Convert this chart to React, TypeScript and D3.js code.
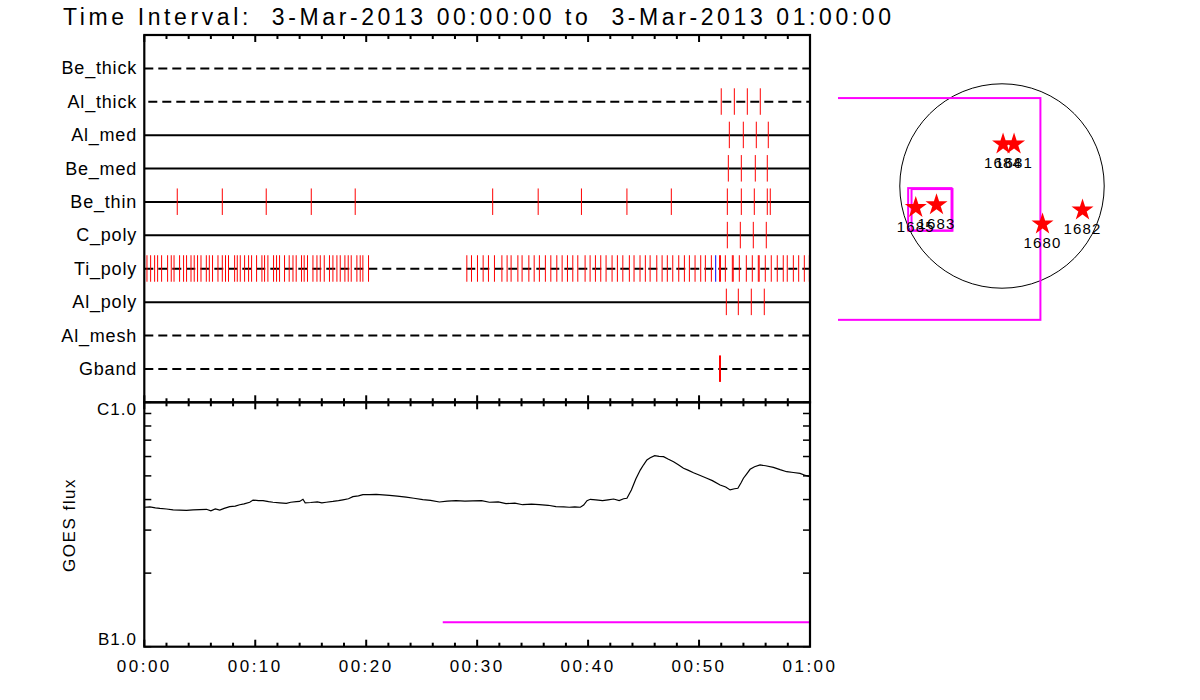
import React, { useEffect, useRef } from "react";
import * as d3 from "d3";

// detector rows, top to bottom
const rowNames = ["Be_thick", "Al_thick", "Al_med", "Be_med", "Be_thin", "C_poly", "Ti_poly", "Al_poly", "Al_mesh", "Gband"];
const rowDashed = [true, true, false, false, false, false, true, false, true, true];

// image times (minutes after 00:00) per row
const beThickTimes: number[] = [];
const alThickTimes = [52.0, 53.18, 54.35, 55.52];
const alMedTimes = [52.73, 53.99, 55.16, 56.24];
const beMedTimes = [52.64, 53.81, 55.07, 56.15];
const beThinTimes = [2.97, 7.03, 10.99, 15.05, 19.01, 31.4, 35.5, 39.4, 43.5, 47.5, 52.55, 53.81, 54.98, 56.15, 56.42];
const cPolyTimes = [52.55, 53.72, 54.89, 56.06];
const tiPolyTimes = [
  0.24, 0.57, 0.93, 1.2, 1.56, 2.1, 2.43, 2.68, 3.18, 3.54, 3.81, 4.21, 4.5, 4.8, 5.11, 5.59, 5.86, 6.15, 6.64,
  7.03, 7.32, 7.59, 8.14, 8.38, 8.65, 9.04, 9.4, 9.67, 10.12, 10.6, 10.84, 11.14, 11.65, 11.92, 12.19, 12.64,
  13.06, 13.4, 13.69, 14.17, 14.41, 14.71, 15.2, 15.56, 15.86, 16.22, 16.69, 17.0, 17.36, 17.66, 18.08, 18.38,
  18.65, 19.16, 19.46, 19.7, 20.21,
  29.07, 29.49, 30.03, 30.54, 31.02, 31.56, 32.23, 32.7, 33.06, 33.67, 34.05, 34.66, 35.14, 35.61, 36.15,
  36.64, 37.18, 37.66, 38.14, 38.62, 39.07, 39.73, 40.18, 40.66, 41.14, 41.62, 42.16, 42.64, 43.13, 43.72,
  44.14, 44.68, 45.16, 45.59, 46.19, 46.67, 47.14, 47.63, 48.17, 48.68, 49.13, 49.64, 50.15, 50.57, 51.11,
  51.85, 51.93, 52.37, 53.0, 53.08, 53.63, 54.26, 54.8, 55.34, 55.42, 55.97, 56.51, 57.05, 57.59, 57.95,
  58.5, 58.98, 59.49, 59.94,
];
const tiPolyBlue = [51.5];
const alPolyTimes = [52.46, 53.54, 54.71, 55.88];
const alMeshTimes: number[] = [];
const gbandTimes = [51.89];
const rowTimes = [beThickTimes, alThickTimes, alMedTimes, beMedTimes, beThinTimes, cPolyTimes, tiPolyTimes, alPolyTimes, alMeshTimes, gbandTimes];

// GOES flux (minutes, flux in units of 1e-7 W/m^2)
const goesMinutes = [
  0, 0.5, 1.0, 1.4, 2.0, 2.6, 3.2, 3.8, 4.4, 5.0, 5.6, 6.0, 6.4, 6.8, 7.2, 7.7, 8.2, 8.6, 9.0, 9.5, 9.8, 10.3,
  10.7, 11.2, 11.6, 12.2, 12.8, 13.2, 13.7, 14.0, 14.3, 14.5, 15.0, 15.6, 16.0, 16.4, 17.0, 17.5, 17.9, 18.4,
  18.8, 19.3, 19.7, 20.3, 20.9, 21.5, 22.1, 22.8, 23.6, 24.3, 25.1, 25.8, 26.6, 27.3, 28.1, 28.9, 29.6, 30.4,
  31.1, 31.9, 32.6, 33.4, 34.1, 34.9, 35.6, 36.4, 37.1, 37.8, 38.3, 38.8, 39.3, 39.6, 39.9, 40.2, 40.7, 41.3,
  41.8, 42.3, 42.8, 43.2, 43.5, 43.9, 44.3, 44.7, 45.0, 45.3, 45.6, 46.0, 46.4, 46.8, 47.2, 47.7, 48.1, 48.6,
  49.0, 49.5, 50.0, 50.7, 51.2, 51.9, 52.4, 52.8, 53.2, 53.5, 53.8, 54.0, 54.3, 54.6, 55.0, 55.5, 56.0, 56.7,
  57.3, 57.9, 58.5, 59.1, 59.6, 60.0,
];
const goesFlux = [
  3.72, 3.73, 3.7, 3.68, 3.66, 3.63, 3.62, 3.61, 3.63, 3.64, 3.65, 3.6, 3.66, 3.62, 3.68, 3.74, 3.76, 3.81, 3.84,
  3.9, 3.98, 3.96, 3.96, 3.92, 3.9, 3.88, 3.86, 3.9, 3.92, 3.93, 4.01, 3.88, 3.89, 3.91, 3.88, 3.9, 3.93, 3.96,
  3.99, 4.03, 4.11, 4.14, 4.19, 4.19, 4.2, 4.18, 4.16, 4.13, 4.09, 4.05, 4.0, 3.97, 3.91, 3.94, 3.96, 3.94, 3.95,
  3.96, 3.9, 3.91, 3.85, 3.87, 3.81, 3.83, 3.81, 3.79, 3.74, 3.73, 3.72, 3.73, 3.72, 3.8, 3.96, 4.01, 3.99, 3.96,
  3.99, 4.02, 3.96, 4.03, 4.05, 4.38, 4.85, 5.28, 5.55, 5.81, 5.93, 6.05, 6.01, 5.99, 5.86, 5.71, 5.56, 5.37,
  5.28, 5.15, 5.04, 4.89, 4.78, 4.59, 4.5, 4.38, 4.43, 4.45, 4.7, 4.89, 5.1, 5.32, 5.45, 5.54, 5.5, 5.42, 5.3,
  5.2, 5.16, 5.12, 5.02, 4.96,
];
// attenuator/state bar in the GOES panel
const magentaStart = 26.9;
const magentaEnd = 60;
const magentaLevel = 1.26;

const timeLabels = ["00:00", "00:10", "00:20", "00:30", "00:40", "00:50", "01:00"];

// solar map (arcsec)
const limbRadius = 966;
const flareIds = ["1684", "1681", "1685", "1683", "1680", "1682"];
const flareX = [10, 114, -815, -619, 383, 761];
const flareY = [405, 405, -194, -168, -351, -218];
const fovBoxes = [
  [-1737, 363, -1265, 831],
  [-887, -477, -421, -20],
  [-855, -468, -423, -29],
];

const FONT = "'Liberation Sans', Arial, sans-serif";

const App = () => {
  const svgRef = useRef<SVGSVGElement | null>(null);
  const w = 1200;
  const h = 700;
  const m = { left: 144.3, right: 810, top: 35, mid: 402.3, bottom: 646.7 };

  useEffect(() => {
    const svg = d3.select(svgRef.current);
    svg.selectAll("*").remove();

    const xScale = d3.scaleLinear().domain([0, 60]).range([m.left, m.right]);
    const rowScale = d3.scaleLinear().domain([0, 11]).range([m.top, m.mid]);
    const yFlux = d3.scaleLog().domain([1e-7, 1e-6]).range([m.bottom, m.mid]);

    // title
    svg
      .append("text")
      .attr("x", 63)
      .attr("y", 25)
      .attr("textLength", 828)
      .attr("lengthAdjust", "spacing")
      .style("font-family", FONT)
      .style("font-size", "23px")
      .style("white-space", "pre")
      .text("Time Interval:  3-Mar-2013 00:00:00 to  3-Mar-2013 01:00:00");

    // detector rows
    const rows = svg.append("g");
    rowNames.forEach((name, i) => {
      const y = rowScale(i + 1);
      rows
        .append("line")
        .attr("x1", m.left)
        .attr("x2", m.right)
        .attr("y1", y)
        .attr("y2", y)
        .attr("stroke", "#000")
        .attr("stroke-width", 2)
        .attr("stroke-dasharray", rowDashed[i] ? "9,5" : null)
        .attr("stroke-dashoffset", i === 1 ? -4 : 0);
      rows
        .append("text")
        .attr("x", 137)
        .attr("y", y)
        .attr("text-anchor", "end")
        .attr("dominant-baseline", "central")
        .style("font-family", FONT)
        .style("font-size", "18px")
        .style("letter-spacing", "0.8px")
        .text(name);
      rows
        .selectAll(null)
        .data(rowTimes[i])
        .enter()
        .append("line")
        .attr("x1", (d) => xScale(d))
        .attr("x2", (d) => xScale(d))
        .attr("y1", y - 13.5)
        .attr("y2", y + 13)
        .attr("stroke", "#ff0000")
        .attr("stroke-width", name === "Gband" ? 2 : 1);
      if (name === "Ti_poly") {
        rows
          .selectAll(null)
          .data(tiPolyBlue)
          .enter()
          .append("line")
          .attr("x1", (d) => xScale(d))
          .attr("x2", (d) => xScale(d))
          .attr("y1", y - 13.5)
          .attr("y2", y + 13)
          .attr("stroke", "#0000ff")
          .attr("stroke-width", 1);
      }
    });

    // GOES curve
    const line = d3
      .line<number>()
      .x((_, i) => xScale(goesMinutes[i]))
      .y((d) => yFlux(d * 1e-7));
    svg
      .append("path")
      .datum(goesFlux)
      .attr("d", line)
      .attr("fill", "none")
      .attr("stroke", "#000")
      .attr("stroke-width", 1.2);

    svg
      .append("line")
      .attr("x1", xScale(magentaStart))
      .attr("x2", xScale(magentaEnd))
      .attr("y1", yFlux(magentaLevel * 1e-7))
      .attr("y2", yFlux(magentaLevel * 1e-7))
      .attr("stroke", "#ff00ff")
      .attr("stroke-width", 2);

    // time ticks on the horizontal axes
    const timeTicks = xScale.ticks(30);
    const hAxes = [
      { y: m.top, dir: 1 },
      { y: m.mid, dir: -1 },
      { y: m.mid, dir: 1 },
      { y: m.bottom, dir: -1 },
    ];
    hAxes.forEach((a) => {
      svg
        .append("g")
        .selectAll("line")
        .data(timeTicks)
        .enter()
        .append("line")
        .attr("x1", (d) => xScale(d))
        .attr("x2", (d) => xScale(d))
        .attr("y1", a.y)
        .attr("y2", (d) => a.y + a.dir * (d % 10 === 0 ? 7 : 4))
        .attr("stroke", "#000")
        .attr("stroke-width", 2);
    });

    // log ticks on GOES panel
    const fluxTicks = yFlux.ticks();
    [
      { x: m.left, dir: 1 },
      { x: m.right, dir: -1 },
    ].forEach((a) => {
      svg
        .append("g")
        .selectAll("line")
        .data(fluxTicks)
        .enter()
        .append("line")
        .attr("x1", a.x)
        .attr("x2", a.x + a.dir * 7)
        .attr("y1", (d) => yFlux(d))
        .attr("y2", (d) => yFlux(d))
        .attr("stroke", "#000")
        .attr("stroke-width", 1.5);
    });

    // frames
    [
      [m.top, m.mid],
      [m.mid, m.bottom],
    ].forEach(([y0, y1]) => {
      svg
        .append("rect")
        .attr("x", m.left)
        .attr("y", y0)
        .attr("width", m.right - m.left)
        .attr("height", y1 - y0)
        .attr("fill", "none")
        .attr("stroke", "#000")
        .attr("stroke-width", 2.2);
    });

    svg
      .append("text")
      .attr("x", 137)
      .attr("y", yFlux(1e-6) + 7)
      .attr("text-anchor", "end")
      .attr("dominant-baseline", "central")
      .style("font-family", FONT)
      .style("font-size", "17px")
      .style("letter-spacing", "1px")
      .text("C1.0");
    svg
      .append("text")
      .attr("x", 137)
      .attr("y", yFlux(1e-7) - 7)
      .attr("text-anchor", "end")
      .attr("dominant-baseline", "central")
      .style("font-family", FONT)
      .style("font-size", "17px")
      .style("letter-spacing", "1px")
      .text("B1.0");
    svg
      .append("text")
      .attr("transform", `translate(75, 525) rotate(-90)`)
      .attr("text-anchor", "middle")
      .style("font-family", FONT)
      .style("font-size", "17px")
      .style("letter-spacing", "1.5px")
      .text("GOES flux");

    svg
      .append("g")
      .selectAll("text")
      .data(timeLabels)
      .enter()
      .append("text")
      .attr("x", (_, i) => xScale(i * 10))
      .attr("y", 672)
      .attr("text-anchor", "middle")
      .style("font-family", FONT)
      .style("font-size", "17px")
      .style("letter-spacing", "2.5px")
      .text((d) => d);

    // solar map
    const sunX = d3.scaleLinear().domain([-1550, 1550]).range([838, 1166]);
    const sunY = d3.scaleLinear().domain([-1550, 1550]).range([350, 22]);
    svg
      .append("clipPath")
      .attr("id", "mapclip")
      .append("rect")
      .attr("x", 838)
      .attr("y", 22)
      .attr("width", 328)
      .attr("height", 328);
    const map = svg.append("g").attr("clip-path", "url(#mapclip)");
    map
      .append("circle")
      .attr("cx", sunX(0))
      .attr("cy", sunY(0))
      .attr("r", sunX(limbRadius) - sunX(0))
      .attr("fill", "none")
      .attr("stroke", "#000")
      .attr("stroke-width", 1);
    map
      .selectAll("rect.fov")
      .data(fovBoxes)
      .enter()
      .append("rect")
      .attr("class", "fov")
      .attr("x", (d) => sunX(d[0]))
      .attr("y", (d) => sunY(d[3]))
      .attr("width", (d) => sunX(d[1]) - sunX(d[0]))
      .attr("height", (d) => sunY(d[2]) - sunY(d[3]))
      .attr("fill", "none")
      .attr("stroke", "#ff00ff")
      .attr("stroke-width", 2);
    const star = d3.symbol(d3.symbolStar, 150);
    flareIds.forEach((id, i) => {
      map
        .append("path")
        .attr("d", star)
        .attr("transform", `translate(${sunX(flareX[i])}, ${sunY(flareY[i]) + 1})`)
        .attr("fill", "#ff0000");
      // labels overlap where regions sit close together, as in the original
      map
        .append("text")
        .attr("x", sunX(flareX[i]))
        .attr("y", sunY(flareY[i]) + 25)
        .attr("text-anchor", "middle")
        .style("font-family", FONT)
        .style("font-size", "15px")
        .style("letter-spacing", "1.2px")
        .text(id);
    });
  }, []);

  return (
    <div>
      <svg
        ref={svgRef}
        width={w}
        height={h}
        style={{ position: "absolute", left: 0, top: 0, background: "#fff" }}
      ></svg>
    </div>
  );
};

export default App;
